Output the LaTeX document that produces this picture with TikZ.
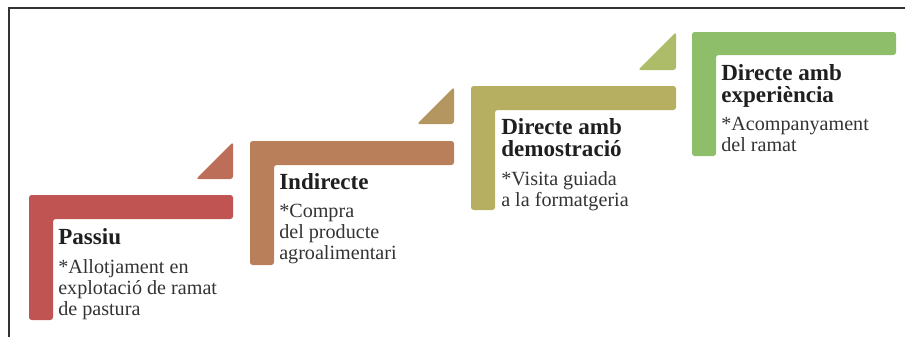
\documentclass[tikz,border=0pt]{standalone}
\usepackage{fontspec}
\setmainfont{Liberation Serif}
\usetikzlibrary{positioning}
\definecolor{bar1}{RGB}{191,84,82}
\definecolor{tri1}{RGB}{188,110,88}
\definecolor{bar2}{RGB}{185,126,90}
\definecolor{tri2}{RGB}{180,150,96}
\definecolor{bar3}{RGB}{182,175,98}
\definecolor{tri3}{RGB}{172,188,104}
\definecolor{bar4}{RGB}{142,190,106}
\begin{document}
\begin{tikzpicture}[x=0.75pt, y=-0.75pt,
    stepbar/.style={rounded corners=2pt},
    heading/.style={anchor=north west, inner sep=0pt, align=left, text depth=0pt,
      text=black!88, font=\fontsize{17.3}{16.5}\selectfont\bfseries},
    detail/.style={anchor=north west, inner sep=0pt, align=left,
      text=black!80, font=\fontsize{15.1}{15.75}\selectfont}]
      \useasboundingbox (0,0) rectangle (905,337);
      % frame
      \draw[black!80, line width=1.1pt] (9,337) -- (9,8) -- (905,8);
      % steps
      \fill[stepbar, bar1] (29,195) -- ++(204,0) -- ++(0,24) -- ++(-180,0) -- ++(0,101) -- ++(-24,0) -- cycle;
      \fill[stepbar, bar2] (250,141) -- ++(204,0) -- ++(0,24) -- ++(-180,0) -- ++(0,100) -- ++(-24,0) -- cycle;
      \fill[stepbar, bar3] (471,86) -- ++(205,0) -- ++(0,24) -- ++(-181,0) -- ++(0,100) -- ++(-24,0) -- cycle;
      \fill[stepbar, bar4] (692,32) -- ++(204,0) -- ++(0,23) -- ++(-180,0) -- ++(0,101) -- ++(-24,0) -- cycle;
      % triangles
      \fill[stepbar, tri1] (233,142) -- (233,179) -- (196,179) -- cycle;
      \fill[stepbar, tri2] (454,87) -- (454,124) -- (417,124) -- cycle;
      \fill[stepbar, tri3] (676,32) -- (676,70) -- (638,70) -- cycle;
      % texts
      \node (h1)[heading] at (58,228) {Passiu};
      \node (h2)[heading] at (279,173) {Indirecte};
      \node (h3)[heading] at (501,118) {Directe amb\\demostració};
      \node (h4)[heading] at (721,64) {Directe amb\\experiència};
      \node (d1)[below=11pt of h1.south west, detail] {*Allotjament en\\explotació de ramat\\de pastura};
      \node (d2)[below=11pt of h2.south west, detail] {*Compra\\del producte\\agroalimentari};
      \node (d3)[below=11pt of h3.south west, detail] {*Visita guiada\\a la formatgeria};
      \node (d4)[below=11pt of h4.south west, detail] {*Acompanyament\\del ramat};
    \end{tikzpicture}
\end{document}
